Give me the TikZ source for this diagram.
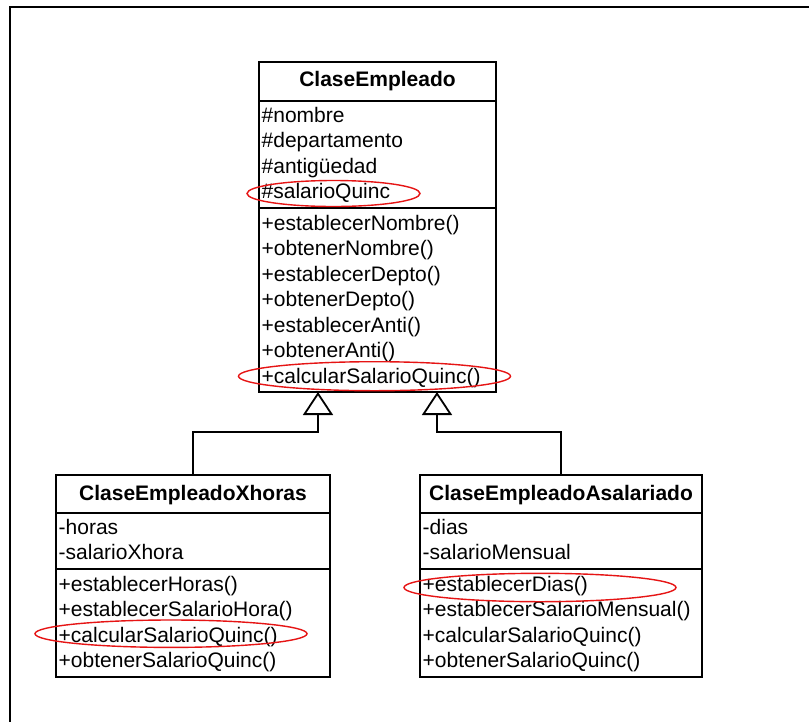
\documentclass[tikz,border=0pt]{standalone}
\usepackage{fontspec}
\setmainfont{Liberation Sans}
\usetikzlibrary{arrows.meta}
\definecolor{ringred}{RGB}{230,20,20}

\tikzset{
  box/.style={draw, line width=1.8pt, fill=white, inner sep=0pt, outer sep=0pt, anchor=north west},
  rowtext/.style={inner sep=0pt, anchor=base west, font=\fontsize{21}{25.5}\selectfont},
  titletext/.style={inner sep=0pt, anchor=base, font=\fontsize{21}{25.5}\selectfont\bfseries},
  inherit/.style={line width=1.3pt, -{Triangle[open, length=23pt, width=30pt, line width=1.8pt]}},
  redring/.style={draw=ringred, line width=1.4pt},
  frame/.style={draw, line width=2pt}
}

% one text line per row of a compartment: prefix, left x, first baseline, rows
\newcommand\classrows[4]{%
  \foreach \txt [count=\k from 0] in {#4}{%
    \node[rowtext] (#1-\k) at (#2, #3+25.5*\k) {\txt};}}

\begin{document}
\begin{tikzpicture}[x=1pt, y=-1pt]
\useasboundingbox (0,0) rectangle (809,721);
\clip (0,0) rectangle (809,721);

% page border
\draw[frame] (10,7) rectangle (840,760);

% base class
\node[box, minimum width=237pt, minimum height=39pt]  (ce-name) at (259,62) {};
\node[box, minimum width=237pt, minimum height=107pt] (ce-attr) at (ce-name.south west) {};
\node[box, minimum width=237pt, minimum height=184pt] (ce-ops)  at (ce-attr.south west) {};
\node[titletext] (ce-title) at (377.5,86.7) {ClaseEmpleado};
\classrows{ce-a}{261.5}{122}{\#nombre,\#departamento,\#antigüedad,\#salarioQuinc}
\classrows{ce-m}{261.5}{230}{+establecerNombre(),+obtenerNombre(),+establecerDepto(),+obtenerDepto(),+establecerAnti(),+obtenerAnti(),+calcularSalarioQuinc()}

% hourly employee
\node[box, minimum width=274pt, minimum height=38pt]  (xh-name) at (56,475) {};
\node[box, minimum width=274pt, minimum height=56pt]  (xh-attr) at (xh-name.south west) {};
\node[box, minimum width=274pt, minimum height=108pt] (xh-ops)  at (xh-attr.south west) {};
\node[titletext] (xh-title) at (193,500) {ClaseEmpleadoXhoras};
\classrows{xh-a}{58.5}{534}{-horas,-salarioXhora}
\classrows{xh-m}{58.5}{591}{+establecerHoras(),+establecerSalarioHora(),+calcularSalarioQuinc(),+obtenerSalarioQuinc()}

% salaried employee
\node[box, minimum width=282pt, minimum height=38pt]  (as-name) at (420,475) {};
\node[box, minimum width=282pt, minimum height=56pt]  (as-attr) at (as-name.south west) {};
\node[box, minimum width=282pt, minimum height=108pt] (as-ops)  at (as-attr.south west) {};
\node[titletext] (as-title) at (561,500) {ClaseEmpleadoAsalariado};
\classrows{as-a}{422.5}{534}{-dias,-salarioMensual}
\classrows{as-m}{422.5}{591}{+establecerDias(),+establecerSalarioMensual(),+calcularSalarioQuinc(),+obtenerSalarioQuinc()}

% generalisation connectors
\coordinate (apexL) at (318,392);
\coordinate (apexR) at (437,392);
\coordinate (kneeL) at (318,432);
\coordinate (kneeR) at (437,432);
\draw[inherit] (xh-name.north) |- (kneeL) -- (apexL);
\draw[inherit] (as-name.north) |- (kneeR) -- (apexR);

% highlighted members
\draw[redring] (333.5,193.5) ellipse [x radius=86.5pt, y radius=13pt];
\draw[redring] (374.5,376.2) ellipse [x radius=136pt, y radius=14.5pt];
\draw[redring] (171,633.7) ellipse [x radius=136pt, y radius=13.7pt];
\draw[redring] (540,587.5) ellipse [x radius=136pt, y radius=14.2pt];
\end{tikzpicture}
\end{document}
